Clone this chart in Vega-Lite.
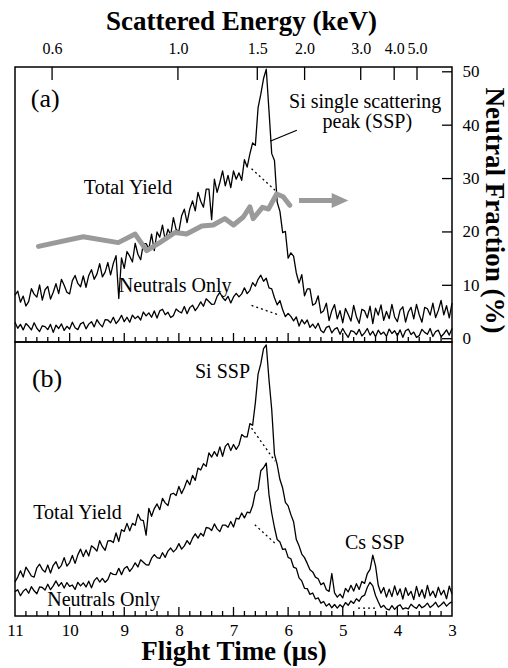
{
"$schema": "https://vega.github.io/schema/vega-lite/v6.json",
"padding": {"left": 6, "top": 6, "right": 0, "bottom": 0},
"spacing": 0,
"bounds": "flush",
"datasets": {
"A": [
{"t":11,"tot":17.0,"neu":7.2},{"t":10.95,"tot":18.5,"neu":5.0},{"t":10.9,"tot":14.5,"neu":6.4},{"t":10.85,"tot":16.7,"neu":4.4},{"t":10.8,"tot":13.1,"neu":6.7},
{"t":10.75,"tot":14.7,"neu":5.7},{"t":10.7,"tot":19.4,"neu":4.4},{"t":10.65,"tot":17.4,"neu":7.0},{"t":10.6,"tot":16.3,"neu":5.0},{"t":10.55,"tot":20.8,"neu":3.8},
{"t":10.5,"tot":15.2,"neu":5.9},{"t":10.45,"tot":19.0,"neu":5.6},{"t":10.4,"tot":20.2,"neu":4.5},{"t":10.35,"tot":15.6,"neu":6.4},{"t":10.3,"tot":18.1,"neu":3.5},
{"t":10.25,"tot":21.2,"neu":6.1},{"t":10.2,"tot":17.6,"neu":4.9},{"t":10.15,"tot":22.8,"neu":6.6},{"t":10.1,"tot":20.6,"neu":4.2},{"t":10.05,"tot":18.1,"neu":5.7},
{"t":10,"tot":17.5,"neu":4.7},{"t":9.95,"tot":22.3,"neu":7.2},{"t":9.9,"tot":24.2,"neu":5.2},{"t":9.85,"tot":21.3,"neu":4.5},{"t":9.8,"tot":20.1,"neu":6.6},
{"t":9.75,"tot":24.0,"neu":7.2},{"t":9.7,"tot":19.9,"neu":4.8},{"t":9.65,"tot":24.2,"neu":6.5},{"t":9.6,"tot":26.3,"neu":7.4},{"t":9.55,"tot":22.8,"neu":5.5},
{"t":9.5,"tot":24.7,"neu":8.1},{"t":9.45,"tot":28.5,"neu":6.6},{"t":9.4,"tot":23.7,"neu":5.5},{"t":9.35,"tot":25.4,"neu":8.1},{"t":9.3,"tot":28.9,"neu":8.0},
{"t":9.25,"tot":24.4,"neu":7.0},{"t":9.2,"tot":28.6,"neu":9.0},{"t":9.15,"tot":31.4,"neu":6.7},{"t":9.1,"tot":15.8,"neu":7.9},{"t":9.05,"tot":30.6,"neu":9.7},
{"t":9,"tot":26.8,"neu":7.4},{"t":8.95,"tot":32.9,"neu":9.0},{"t":8.9,"tot":31.2,"neu":7.2},{"t":8.85,"tot":29.1,"neu":9.8},{"t":8.8,"tot":35.9,"neu":8.5},
{"t":8.75,"tot":31.9,"neu":9.4},{"t":8.7,"tot":29.9,"neu":8.0},{"t":8.65,"tot":35.8,"neu":10.9},{"t":8.6,"tot":35.8,"neu":9.5},{"t":8.55,"tot":33.9,"neu":10.6},
{"t":8.5,"tot":39.2,"neu":9.0},{"t":8.45,"tot":33.2,"neu":11.3},{"t":8.4,"tot":40.0,"neu":8.7},{"t":8.35,"tot":38.1,"neu":11.3},{"t":8.3,"tot":42.5,"neu":11.9},
{"t":8.25,"tot":37.0,"neu":9.9},{"t":8.2,"tot":41.0,"neu":10.8},{"t":8.15,"tot":38.9,"neu":8.9},{"t":8.1,"tot":45.2,"neu":9.6},{"t":8.05,"tot":40.9,"neu":12.0},
{"t":8,"tot":40.2,"neu":11.1},{"t":7.95,"tot":45.9,"neu":10.6},{"t":7.9,"tot":48.3,"neu":12.9},{"t":7.85,"tot":43.4,"neu":10.3},{"t":7.8,"tot":48.4,"neu":12.5},
{"t":7.75,"tot":51.3,"neu":13.4},{"t":7.7,"tot":47.7,"neu":11.4},{"t":7.65,"tot":54.4,"neu":12.8},{"t":7.6,"tot":51.2,"neu":14.6},{"t":7.55,"tot":49.0,"neu":13.0},
{"t":7.5,"tot":55.6,"neu":15.7},{"t":7.45,"tot":55.6,"neu":14.7},{"t":7.4,"tot":44.5,"neu":13.7},{"t":7.35,"tot":59.2,"neu":13.8},{"t":7.3,"tot":54.4,"neu":16.6},
{"t":7.25,"tot":58.0,"neu":18.0},{"t":7.2,"tot":62.2,"neu":16.2},{"t":7.15,"tot":56.8,"neu":15.1},{"t":7.1,"tot":60.6,"neu":16.6},{"t":7.05,"tot":56.1,"neu":14.2},
{"t":7,"tot":62.2,"neu":16.4},{"t":6.95,"tot":59.2,"neu":17.7},{"t":6.9,"tot":61.5,"neu":16.4},{"t":6.85,"tot":58.8,"neu":17.5},{"t":6.8,"tot":66.3,"neu":19.7},
{"t":6.75,"tot":63.6,"neu":17.6},{"t":6.7,"tot":68.4,"neu":18.8},{"t":6.65,"tot":72.4,"neu":21.6},{"t":6.6,"tot":71.5,"neu":20.3},{"t":6.55,"tot":85.2,"neu":22.8},
{"t":6.5,"tot":90.1,"neu":24.3},{"t":6.45,"tot":95.8,"neu":22.1},{"t":6.4,"tot":99.2,"neu":23.2},{"t":6.35,"tot":84.0,"neu":19.7},{"t":6.3,"tot":68.5,"neu":19.3},
{"t":6.25,"tot":66.0,"neu":16.1},{"t":6.2,"tot":50.8,"neu":13.5},{"t":6.15,"tot":47.5,"neu":15.1},{"t":6.1,"tot":39.8,"neu":11.7},{"t":6.05,"tot":40.2,"neu":9.2},
{"t":6,"tot":30.5,"neu":10.4},{"t":5.95,"tot":32.4,"neu":9.3},{"t":5.9,"tot":31.2,"neu":7.7},{"t":5.85,"tot":25.1,"neu":9.1},{"t":5.8,"tot":21.4,"neu":5.8},
{"t":5.75,"tot":24.5,"neu":8.1},{"t":5.7,"tot":16.8,"neu":6.6},{"t":5.65,"tot":19.3,"neu":8.0},{"t":5.6,"tot":19.3,"neu":5.3},{"t":5.55,"tot":13.4,"neu":6.5},
{"t":5.5,"tot":14.0,"neu":5.0},{"t":5.45,"tot":16.8,"neu":6.8},{"t":5.4,"tot":10.5,"neu":4.2},{"t":5.35,"tot":11.4,"neu":3.4},{"t":5.3,"tot":14.1,"neu":5.3},
{"t":5.25,"tot":7.8,"neu":5.8},{"t":5.2,"tot":11.4,"neu":3.3},{"t":5.15,"tot":13.6,"neu":4.7},{"t":5.1,"tot":8.4,"neu":5.2},{"t":5.05,"tot":11.4,"neu":2.8},
{"t":5,"tot":7.0,"neu":4.9},{"t":4.95,"tot":12.2,"neu":3.1},{"t":4.9,"tot":10.0,"neu":1.7},{"t":4.85,"tot":7.6,"neu":4.1},{"t":4.8,"tot":13.3,"neu":3.8},
{"t":4.75,"tot":9.2,"neu":2.7},{"t":4.7,"tot":6.8,"neu":4.6},{"t":4.65,"tot":11.9,"neu":2.2},{"t":4.6,"tot":11.3,"neu":3.3},{"t":4.55,"tot":8.8,"neu":4.9},
{"t":4.5,"tot":13.0,"neu":2.5},{"t":4.45,"tot":6.7,"neu":3.9},{"t":4.4,"tot":12.3,"neu":1.9},{"t":4.35,"tot":9.8,"neu":4.3},{"t":4.3,"tot":13.5,"neu":2.8},
{"t":4.25,"tot":7.9,"neu":3.6},{"t":4.2,"tot":11.1,"neu":2.0},{"t":4.15,"tot":8.5,"neu":4.7},{"t":4.1,"tot":13.7,"neu":3.1},{"t":4.05,"tot":9.1,"neu":4.1},
{"t":4,"tot":7.4,"neu":2.3},{"t":3.95,"tot":11.6,"neu":4.4},{"t":3.9,"tot":12.8,"neu":1.7},{"t":3.85,"tot":7.2,"neu":4.1},{"t":3.8,"tot":10.9,"neu":4.7},
{"t":3.75,"tot":12.6,"neu":2.7},{"t":3.7,"tot":8.4,"neu":3.6},{"t":3.65,"tot":13.7,"neu":1.7},{"t":3.6,"tot":9.9,"neu":2.3},{"t":3.55,"tot":7.2,"neu":4.6},
{"t":3.5,"tot":12.6,"neu":3.5},{"t":3.45,"tot":12.1,"neu":2.8},{"t":3.4,"tot":9.8,"neu":4.9},{"t":3.35,"tot":14.1,"neu":2.0},{"t":3.3,"tot":8.9,"neu":3.8},
{"t":3.25,"tot":11.5,"neu":4.3},{"t":3.2,"tot":15.1,"neu":1.9},{"t":3.15,"tot":9.9,"neu":3.0},{"t":3.1,"tot":13.2,"neu":4.4},{"t":3.05,"tot":8.8,"neu":2.5},
{"t":3,"tot":14.1,"neu":4.9}
],
"B": [
{"t":11,"tot":12.4,"neu":8.9},{"t":10.95,"tot":14.2,"neu":9.6},{"t":10.9,"tot":16.5,"neu":7.4},{"t":10.85,"tot":14.2,"neu":9.0},{"t":10.8,"tot":17.8,"neu":9.9},
{"t":10.75,"tot":16.3,"neu":8.3},{"t":10.7,"tot":14.6,"neu":10.7},{"t":10.65,"tot":14.2,"neu":9.2},{"t":10.6,"tot":17.6,"neu":8.1},{"t":10.55,"tot":18.9,"neu":10.6},
{"t":10.5,"tot":17.0,"neu":10.4},{"t":10.45,"tot":16.0,"neu":9.5},{"t":10.4,"tot":18.6,"neu":11.6},{"t":10.35,"tot":15.7,"neu":9.6},{"t":10.3,"tot":18.5,"neu":11.0},
{"t":10.25,"tot":19.8,"neu":12.8},{"t":10.2,"tot":17.3,"neu":10.9},{"t":10.15,"tot":18.5,"neu":12.2},{"t":10.1,"tot":21.3,"neu":10.2},{"t":10.05,"tot":18.2,"neu":12.2},
{"t":10,"tot":19.5,"neu":10.8},{"t":9.95,"tot":22.1,"neu":11.3},{"t":9.9,"tot":19.2,"neu":9.7},{"t":9.85,"tot":22.3,"neu":12.3},{"t":9.8,"tot":24.4,"neu":11.0},
{"t":9.75,"tot":21.7,"neu":12.1},{"t":9.7,"tot":24.1,"neu":10.6},{"t":9.65,"tot":21.9,"neu":12.7},{"t":9.6,"tot":25.6,"neu":10.3},{"t":9.55,"tot":24.8,"neu":12.9},
{"t":9.5,"tot":23.7,"neu":14.0},{"t":9.45,"tot":27.5,"neu":12.4},{"t":9.4,"tot":25.3,"neu":13.7},{"t":9.35,"tot":24.0,"neu":12.3},{"t":9.3,"tot":27.4,"neu":13.3},
{"t":9.25,"tot":27.5,"neu":15.8},{"t":9.2,"tot":26.8,"neu":15.2},{"t":9.15,"tot":30.3,"neu":15.1},{"t":9.1,"tot":27.2,"neu":17.4},{"t":9.05,"tot":31.5,"neu":15.1},
{"t":9,"tot":30.9,"neu":17.3},{"t":8.95,"tot":33.8,"neu":18.1},{"t":8.9,"tot":31.1,"neu":16.3},{"t":8.85,"tot":33.8,"neu":17.6},{"t":8.8,"tot":33.1,"neu":19.4},
{"t":8.75,"tot":37.2,"neu":17.9},{"t":8.7,"tot":35.1,"neu":20.5},{"t":8.65,"tot":34.8,"neu":19.6},{"t":8.6,"tot":29.5,"neu":18.7},{"t":8.55,"tot":39.3,"neu":18.6},
{"t":8.5,"tot":36.4,"neu":21.1},{"t":8.45,"tot":39.2,"neu":22.4},{"t":8.4,"tot":40.9,"neu":21.3},{"t":8.35,"tot":38.8,"neu":21.0},{"t":8.3,"tot":42.9,"neu":23.1},
{"t":8.25,"tot":41.3,"neu":21.4},{"t":8.2,"tot":40.3,"neu":23.7},{"t":8.15,"tot":44.4,"neu":24.8},{"t":8.1,"tot":44.8,"neu":23.4},{"t":8.05,"tot":44.0,"neu":24.4},
{"t":8,"tot":47.3,"neu":26.4},{"t":7.95,"tot":44.7,"neu":24.4},{"t":7.9,"tot":46.8,"neu":25.6},{"t":7.85,"tot":49.6,"neu":27.5},{"t":7.8,"tot":47.9,"neu":26.1},
{"t":7.75,"tot":51.3,"neu":28.4},{"t":7.7,"tot":49.5,"neu":30.0},{"t":7.65,"tot":54.0,"neu":28.4},{"t":7.6,"tot":53.3,"neu":30.2},{"t":7.55,"tot":55.6,"neu":29.2},
{"t":7.5,"tot":54.6,"neu":32.3},{"t":7.45,"tot":59.5,"neu":32.1},{"t":7.4,"tot":58.0,"neu":31.2},{"t":7.35,"tot":60.0,"neu":33.6},{"t":7.3,"tot":58.3,"neu":31.8},
{"t":7.25,"tot":61.7,"neu":30.8},{"t":7.2,"tot":58.3,"neu":33.2},{"t":7.15,"tot":61.9,"neu":33.2},{"t":7.1,"tot":63.0,"neu":32.4},{"t":7.05,"tot":60.4,"neu":34.5},
{"t":7,"tot":62.6,"neu":32.5},{"t":6.95,"tot":60.8,"neu":35.7},{"t":6.9,"tot":62.4,"neu":35.4},{"t":6.85,"tot":66.2,"neu":37.6},{"t":6.8,"tot":65.4,"neu":35.8},
{"t":6.75,"tot":65.4,"neu":37.9},{"t":6.7,"tot":70.2,"neu":37.6},{"t":6.65,"tot":69.6,"neu":40.2},{"t":6.6,"tot":77.8,"neu":45.1},{"t":6.55,"tot":88.3,"neu":46.2},
{"t":6.5,"tot":92.1,"neu":53.0},{"t":6.45,"tot":97.6,"neu":54.1},{"t":6.4,"tot":98.9,"neu":55.8},{"t":6.35,"tot":86.2,"neu":44.2},{"t":6.3,"tot":75.3,"neu":37.5},
{"t":6.25,"tot":59.1,"neu":32.3},{"t":6.2,"tot":55.2,"neu":27.9},{"t":6.15,"tot":49.8,"neu":27.0},{"t":6.1,"tot":46.7,"neu":24.3},{"t":6.05,"tot":41.5,"neu":24.5},
{"t":6,"tot":40.2,"neu":21.4},{"t":5.95,"tot":37.0,"neu":20.9},{"t":5.9,"tot":34.4,"neu":17.8},{"t":5.85,"tot":27.9,"neu":17.4},{"t":5.8,"tot":25.6,"neu":13.9},
{"t":5.75,"tot":22.6,"neu":12.8},{"t":5.7,"tot":21.3,"neu":10.1},{"t":5.65,"tot":19.2,"neu":10.0},{"t":5.6,"tot":16.9,"neu":7.9},{"t":5.55,"tot":16.1,"neu":8.4},
{"t":5.5,"tot":14.2,"neu":6.2},{"t":5.45,"tot":13.6,"neu":6.6},{"t":5.4,"tot":11.4,"neu":4.7},{"t":5.35,"tot":12.1,"neu":5.3},{"t":5.3,"tot":9.6,"neu":3.6},
{"t":5.25,"tot":9.0,"neu":4.5},{"t":5.2,"tot":15.5,"neu":3.0},{"t":5.15,"tot":8.4,"neu":4.2},{"t":5.1,"tot":6.9,"neu":2.9},{"t":5.05,"tot":8.0,"neu":4.1},
{"t":5,"tot":6.6,"neu":3.2},{"t":4.95,"tot":10.1,"neu":4.9},{"t":4.9,"tot":8.8,"neu":3.9},{"t":4.85,"tot":11.2,"neu":5.5},{"t":4.8,"tot":9.1,"neu":4.6},
{"t":4.75,"tot":11.8,"neu":6.3},{"t":4.7,"tot":9.7,"neu":5.4},{"t":4.65,"tot":12.6,"neu":7.1},{"t":4.6,"tot":11.9,"neu":7.6},{"t":4.55,"tot":15.5,"neu":10.5},
{"t":4.5,"tot":17.0,"neu":12.3},{"t":4.45,"tot":22.2,"neu":11.0},{"t":4.4,"tot":18.3,"neu":7.5},{"t":4.35,"tot":11.2,"neu":5.2},{"t":4.3,"tot":8.3,"neu":3.1},
{"t":4.25,"tot":10.4,"neu":3.9},{"t":4.2,"tot":6.9,"neu":2.6},{"t":4.15,"tot":9.8,"neu":2.2},{"t":4.1,"tot":7.1,"neu":3.8},{"t":4.05,"tot":11.0,"neu":2.4},
{"t":4,"tot":7.6,"neu":3.5},{"t":3.95,"tot":9.9,"neu":4.1},{"t":3.9,"tot":6.2,"neu":2.5},{"t":3.85,"tot":10.3,"neu":3.0},{"t":3.8,"tot":7.5,"neu":2.6},
{"t":3.75,"tot":9.0,"neu":4.3},{"t":3.7,"tot":6.0,"neu":3.4},{"t":3.65,"tot":10.8,"neu":2.8},{"t":3.6,"tot":7.1,"neu":4.2},{"t":3.55,"tot":9.6,"neu":3.0},
{"t":3.5,"tot":6.5,"neu":3.6},{"t":3.45,"tot":11.2,"neu":4.7},{"t":3.4,"tot":7.4,"neu":3.1},{"t":3.35,"tot":9.1,"neu":3.9},{"t":3.3,"tot":6.8,"neu":5.0},
{"t":3.25,"tot":10.5,"neu":3.3},{"t":3.2,"tot":7.7,"neu":4.1},{"t":3.15,"tot":9.4,"neu":5.1},{"t":3.1,"tot":6.3,"neu":3.6},{"t":3.05,"tot":10.9,"neu":4.6},
{"t":3,"tot":8.0,"neu":5.2}
],
"gray": [
{"t":10.57,"nf":17.3},{"t":9.75,"nf":19.1},{"t":9.11,"nf":18.0},{"t":8.8,"nf":19.6},{"t":8.59,"nf":16.5},
{"t":8.35,"nf":18.0},{"t":8.07,"nf":19.9},{"t":7.86,"nf":19.6},{"t":7.58,"nf":21.1},{"t":7.37,"nf":21.3},
{"t":7.16,"nf":22.5},{"t":7.0,"nf":21.3},{"t":6.82,"nf":22.8},{"t":6.7,"nf":24.7},{"t":6.64,"nf":22.5},
{"t":6.47,"nf":24.6},{"t":6.36,"nf":24.3},{"t":6.21,"nf":27.1},{"t":6.09,"nf":26.6},{"t":5.97,"nf":25.0}
],
"arrow": [{"t":5.80,"nf":25.9},{"t":5.18,"nf":25.9}],
"arrowhead": [{"t":5.05,"nf":25.9}],
"dotA": [
{"seg":"u","t":6.67,"c":63.0},{"seg":"u","t":6.24,"c":55.2},
{"seg":"l","t":6.67,"c":13.3},{"seg":"l","t":6.15,"c":9.7}
],
"leaderA": [{"t":5.84,"c":77.0},{"t":6.33,"c":73.0}],
"tagA": [{"label":"(a)","t":10.71,"c":88.3}],
"notesA": [{"label":"Total Yield","t":9.74,"c":53.9},{"label":"Neutrals Only","t":9.10,"c":18.2}],
"sspA": [{"label":"Si single scattering","t":4.59,"c":85.2},{"label":"peak (SSP)","t":4.55,"c":77.9}],
"dotB": [
{"seg":"u","t":6.67,"c":68.6},{"seg":"u","t":6.24,"c":56.5},
{"seg":"l","t":6.61,"c":33.3},{"seg":"l","t":6.21,"c":26.0},
{"seg":"cs","t":4.72,"c":2.9},{"seg":"cs","t":4.37,"c":2.9}
],
"tagB": [{"label":"(b)","t":10.69,"c":86.5}],
"notesB": [{"label":"Si SSP","t":7.705,"c":86.9},{"label":"Total Yield","t":10.665,"c":35.3},{"label":"Neutrals Only","t":10.41,"c":3.6},{"label":"Cs SSP","t":4.959,"c":24.3}],
"segBottom": [
{"seg":"m01","t":3.2,"c":0},{"seg":"m01","t":3.2,"c":1.82},{"seg":"m02","t":3.4,"c":0},{"seg":"m02","t":3.4,"c":1.82},{"seg":"m03","t":3.6,"c":0},{"seg":"m03","t":3.6,"c":1.82},{"seg":"m04","t":3.8,"c":0},{"seg":"m04","t":3.8,"c":1.82},
{"seg":"m05","t":4.2,"c":0},{"seg":"m05","t":4.2,"c":1.82},{"seg":"m06","t":4.4,"c":0},{"seg":"m06","t":4.4,"c":1.82},{"seg":"m07","t":4.6,"c":0},{"seg":"m07","t":4.6,"c":1.82},{"seg":"m08","t":4.8,"c":0},{"seg":"m08","t":4.8,"c":1.82},
{"seg":"m09","t":5.2,"c":0},{"seg":"m09","t":5.2,"c":1.82},{"seg":"m10","t":5.4,"c":0},{"seg":"m10","t":5.4,"c":1.82},{"seg":"m11","t":5.6,"c":0},{"seg":"m11","t":5.6,"c":1.82},{"seg":"m12","t":5.8,"c":0},{"seg":"m12","t":5.8,"c":1.82},
{"seg":"m13","t":6.2,"c":0},{"seg":"m13","t":6.2,"c":1.82},{"seg":"m14","t":6.4,"c":0},{"seg":"m14","t":6.4,"c":1.82},{"seg":"m15","t":6.6,"c":0},{"seg":"m15","t":6.6,"c":1.82},{"seg":"m16","t":6.8,"c":0},{"seg":"m16","t":6.8,"c":1.82},
{"seg":"m17","t":7.2,"c":0},{"seg":"m17","t":7.2,"c":1.82},{"seg":"m18","t":7.4,"c":0},{"seg":"m18","t":7.4,"c":1.82},{"seg":"m19","t":7.6,"c":0},{"seg":"m19","t":7.6,"c":1.82},{"seg":"m20","t":7.8,"c":0},{"seg":"m20","t":7.8,"c":1.82},
{"seg":"m21","t":8.2,"c":0},{"seg":"m21","t":8.2,"c":1.82},{"seg":"m22","t":8.4,"c":0},{"seg":"m22","t":8.4,"c":1.82},{"seg":"m23","t":8.6,"c":0},{"seg":"m23","t":8.6,"c":1.82},{"seg":"m24","t":8.8,"c":0},{"seg":"m24","t":8.8,"c":1.82},
{"seg":"m25","t":9.2,"c":0},{"seg":"m25","t":9.2,"c":1.82},{"seg":"m26","t":9.4,"c":0},{"seg":"m26","t":9.4,"c":1.82},{"seg":"m27","t":9.6,"c":0},{"seg":"m27","t":9.6,"c":1.82},{"seg":"m28","t":9.8,"c":0},{"seg":"m28","t":9.8,"c":1.82},
{"seg":"m29","t":10.2,"c":0},{"seg":"m29","t":10.2,"c":1.82},{"seg":"m30","t":10.4,"c":0},{"seg":"m30","t":10.4,"c":1.82},{"seg":"m31","t":10.6,"c":0},{"seg":"m31","t":10.6,"c":1.82},{"seg":"m32","t":10.8,"c":0},{"seg":"m32","t":10.8,"c":1.82},
{"seg":"j4","t":4,"c":0},{"seg":"j4","t":4,"c":3.27},{"seg":"j5","t":5,"c":0},{"seg":"j5","t":5,"c":3.27},{"seg":"j6","t":6,"c":0},{"seg":"j6","t":6,"c":3.27},{"seg":"j7","t":7,"c":0},{"seg":"j7","t":7,"c":3.27},
{"seg":"j8","t":8,"c":0},{"seg":"j8","t":8,"c":3.27},{"seg":"j9","t":9,"c":0},{"seg":"j9","t":9,"c":3.27},{"seg":"j10","t":10,"c":0},{"seg":"j10","t":10,"c":3.27}
],
"segRight": [
{"seg":"r0","nf":0,"t":3},{"seg":"r0","nf":0,"t":3.183},{"seg":"r1","nf":10,"t":3},{"seg":"r1","nf":10,"t":3.183},{"seg":"r2","nf":20,"t":3},{"seg":"r2","nf":20,"t":3.183},
{"seg":"r3","nf":30,"t":3},{"seg":"r3","nf":30,"t":3.183},{"seg":"r4","nf":40,"t":3},{"seg":"r4","nf":40,"t":3.183},{"seg":"r5","nf":50,"t":3},{"seg":"r5","nf":50,"t":3.183}
],
"segTop": [
{"seg":"e1","E":0.6,"c":95.27},{"seg":"e1","E":0.6,"c":100},{"seg":"e2","E":1,"c":95.27},{"seg":"e2","E":1,"c":100},{"seg":"e3","E":1.5,"c":95.27},{"seg":"e3","E":1.5,"c":100},
{"seg":"e4","E":2,"c":95.27},{"seg":"e4","E":2,"c":100},{"seg":"e5","E":3,"c":95.27},{"seg":"e5","E":3,"c":100},{"seg":"e6","E":4,"c":95.27},{"seg":"e6","E":4,"c":100},{"seg":"e7","E":5,"c":95.27},{"seg":"e7","E":5,"c":100}
]
},
"vconcat": [
{
"width": 437, "height": 275,
"layer": [
{
"encoding": {
"x": {"field": "t", "type": "quantitative", "scale": {"domain": [3, 11], "reverse": true, "nice": false, "zero": false}, "axis": null}
},
"layer": [
{"data": {"name": "segBottom"}, "mark": {"type": "line", "color": "black", "strokeWidth": 1.3},
 "encoding": {"detail": {"field": "seg", "type": "nominal"}, "y": {"field": "c", "type": "quantitative", "scale": {"domain": [0, 100], "nice": false, "zero": false}, "axis": null}}},
{"data": {"name": "A"}, "mark": {"type": "line", "color": "black", "strokeWidth": 1.3, "strokeJoin": "round"},
 "encoding": {"y": {"field": "tot", "type": "quantitative", "scale": {"domain": [0, 100], "nice": false, "zero": false}, "axis": null}}},
{"data": {"name": "A"}, "mark": {"type": "line", "color": "black", "strokeWidth": 1.3, "strokeJoin": "round"},
 "encoding": {"y": {"field": "neu", "type": "quantitative", "scale": {"domain": [0, 100], "nice": false, "zero": false}, "axis": null}}},
{"data": {"name": "dotA"}, "mark": {"type": "line", "color": "black", "strokeWidth": 1.3, "strokeDash": [2, 3]},
 "encoding": {"detail": {"field": "seg"}, "y": {"field": "c", "type": "quantitative", "scale": {"domain": [0, 100], "nice": false, "zero": false}, "axis": null}}},
{"data": {"name": "leaderA"}, "mark": {"type": "line", "color": "black", "strokeWidth": 1.3},
 "encoding": {"y": {"field": "c", "type": "quantitative", "scale": {"domain": [0, 100], "nice": false, "zero": false}, "axis": null}}},
{"data": {"name": "tagA"}, "mark": {"type": "text", "align": "left", "baseline": "middle", "fontSize": 26},
 "encoding": {"y": {"field": "c", "type": "quantitative", "scale": {"domain": [0, 100], "nice": false, "zero": false}, "axis": null}, "text": {"field": "label"}}},
{"data": {"name": "notesA"}, "mark": {"type": "text", "align": "left", "baseline": "alphabetic", "fontSize": 20},
 "encoding": {"y": {"field": "c", "type": "quantitative", "scale": {"domain": [0, 100], "nice": false, "zero": false}, "axis": null}, "text": {"field": "label"}}},
{"data": {"name": "sspA"}, "mark": {"type": "text", "align": "center", "baseline": "alphabetic", "fontSize": 20},
 "encoding": {"y": {"field": "c", "type": "quantitative", "scale": {"domain": [0, 100], "nice": false, "zero": false}, "axis": null}, "text": {"field": "label"}}}
]
},
{
"encoding": {
"x": {"field": "t", "type": "quantitative", "scale": {"domain": [3, 11], "reverse": true, "nice": false, "zero": false}, "axis": null},
"y": {"field": "nf", "type": "quantitative", "scale": {"domain": [-0.62, 50.9], "nice": false, "zero": false},
 "axis": {"orient": "right", "values": [0,10,20,30,40,50], "ticks": false, "tickSize": 0, "labelPadding": 10, "labelFontSize": 17, "title": "Neutral Fraction (%)", "titlePadding": 0, "titleY": 143}}
},
"layer": [
{"data": {"name": "segRight"}, "mark": {"type": "line", "color": "black", "strokeWidth": 1.3},
 "encoding": {"detail": {"field": "seg", "type": "nominal"}}},
{"data": {"name": "gray"}, "mark": {"type": "line", "color": "#9a9a9a", "strokeWidth": 5, "strokeJoin": "round", "strokeCap": "round"}},
{"data": {"name": "arrow"}, "mark": {"type": "line", "color": "#9a9a9a", "strokeWidth": 5}},
{"data": {"name": "arrowhead"}, "mark": {"type": "point", "shape": "M-1,-0.9L1,0L-1,0.9Z", "filled": true, "size": 276, "color": "#9a9a9a", "opacity": 1}}
]
},
{
"data": {"name": "segTop"},
"mark": {"type": "line", "color": "black", "strokeWidth": 1.3},
"encoding": {
"x": {"field": "E", "type": "quantitative", "scale": {"type": "pow", "exponent": -0.5, "domain": [0.5276, 7.453], "nice": false, "zero": false},
 "axis": {"orient": "top", "values": [0.6, 1, 1.5, 2, 3, 4, 5], "format": ".1f", "ticks": false, "tickSize": 0, "labelPadding": 10.5, "labelFontSize": 16, "title": "Scattered Energy (keV)", "titlePadding": 5, "titleX": 226}},
"y": {"field": "c", "type": "quantitative", "scale": {"domain": [0, 100], "nice": false, "zero": false}, "axis": null},
"detail": {"field": "seg", "type": "nominal"}
}
}
],
"resolve": {"scale": {"x": "independent", "y": "independent"}}
},
{
"width": 437, "height": 274,
"encoding": {
"x": {"field": "t", "type": "quantitative", "scale": {"domain": [3, 11], "reverse": true, "nice": false, "zero": false},
 "axis": {"orient": "bottom", "values": [3,4,5,6,7,8,9,10,11], "ticks": false, "tickSize": 0, "labelPadding": 6.5, "labelFontSize": 17, "title": "Flight Time (μs)", "titlePadding": 0}}
},
"layer": [
{"data": {"name": "segBottom"}, "mark": {"type": "line", "color": "black", "strokeWidth": 1.3},
 "encoding": {"detail": {"field": "seg", "type": "nominal"}, "y": {"field": "c", "type": "quantitative", "scale": {"domain": [0, 100], "nice": false, "zero": false}, "axis": null}}},
{"data": {"name": "B"}, "mark": {"type": "line", "color": "black", "strokeWidth": 1.3, "strokeJoin": "round"},
 "encoding": {"y": {"field": "tot", "type": "quantitative", "scale": {"domain": [0, 100], "nice": false, "zero": false}, "axis": null}}},
{"data": {"name": "B"}, "mark": {"type": "line", "color": "black", "strokeWidth": 1.3, "strokeJoin": "round"},
 "encoding": {"y": {"field": "neu", "type": "quantitative", "scale": {"domain": [0, 100], "nice": false, "zero": false}, "axis": null}}},
{"data": {"name": "dotB"}, "mark": {"type": "line", "color": "black", "strokeWidth": 1.3, "strokeDash": [2, 3]},
 "encoding": {"detail": {"field": "seg"}, "y": {"field": "c", "type": "quantitative", "scale": {"domain": [0, 100], "nice": false, "zero": false}, "axis": null}}},
{"data": {"name": "tagB"}, "mark": {"type": "text", "align": "left", "baseline": "middle", "fontSize": 26},
 "encoding": {"y": {"field": "c", "type": "quantitative", "scale": {"domain": [0, 100], "nice": false, "zero": false}, "axis": null}, "text": {"field": "label"}}},
{"data": {"name": "notesB"}, "mark": {"type": "text", "align": "left", "baseline": "alphabetic", "fontSize": 20},
 "encoding": {"y": {"field": "c", "type": "quantitative", "scale": {"domain": [0, 100], "nice": false, "zero": false}, "axis": null}, "text": {"field": "label"}}}
]
}
],
"config": {
"font": "Liberation Serif",
"background": "white",
"view": {"stroke": "black", "strokeWidth": 1.5},
"axis": {"domain": false, "grid": false, "labelColor": "black", "labelFont": "Liberation Serif", "labelFontSize": 17, "labelFlush": false, "labelOverlap": false, "titleColor": "black", "titleFont": "Liberation Serif", "titleFontSize": 27, "titleFontWeight": "bold"},
"text": {"font": "Liberation Serif", "fontSize": 20, "color": "black"}
}
}
